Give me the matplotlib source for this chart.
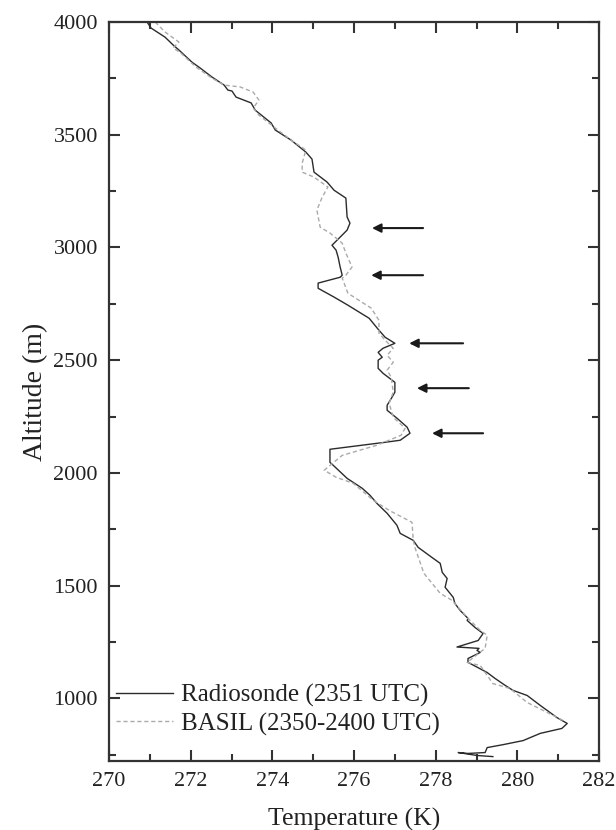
import numpy as np
from matplotlib import pyplot as plt
from matplotlib.ticker import MultipleLocator

# radiosonde profile (temperature K, altitude m)
sonde_T = [270.93, 271.03, 271.37, 271.57, 271.71, 272.03, 272.23, 272.52, 272.82, 272.91,
           273.01, 273.11, 273.48, 273.58, 273.97, 274.07, 274.46, 274.82, 274.97, 275.02,
           275.34, 275.51, 275.80, 275.83, 275.90, 275.83, 275.66, 275.46, 275.56, 275.61,
           275.66, 275.71, 275.66, 275.12, 275.12, 275.51, 275.85, 276.37, 276.61, 276.76,
           277.00, 276.71, 276.59, 276.69, 276.59, 276.59, 276.71, 277.00, 277.00, 276.93,
           276.81, 276.81, 277.05, 277.30, 277.37, 277.30, 277.13, 276.76, 275.41, 275.41,
           275.49, 275.83, 276.20, 276.39, 276.56, 276.81, 277.05, 277.13, 277.45, 277.57,
           277.94, 278.11, 278.16, 278.28, 278.23, 278.43, 278.47, 278.60, 278.79, 278.77,
           278.96, 279.16, 279.04, 278.52, 279.06, 279.01, 279.09, 278.79, 278.79, 279.26,
           279.45, 279.70, 279.89, 280.24, 280.56, 280.97, 281.22, 281.09, 280.56, 280.14,
           279.65, 279.26, 279.21, 278.79, 278.55, 279.01, 279.40]
sonde_z = [4000, 3973, 3933, 3898, 3876, 3822, 3796, 3756, 3720, 3698,
           3694, 3667, 3641, 3609, 3552, 3521, 3476, 3423, 3392, 3334,
           3290, 3254, 3219, 3135, 3108, 3077, 3046, 3010, 2988, 2957,
           2913, 2877, 2868, 2842, 2819, 2780, 2744, 2686, 2633, 2602,
           2575, 2553, 2535, 2513, 2500, 2464, 2442, 2402, 2358, 2336,
           2300, 2278, 2243, 2203, 2176, 2167, 2145, 2136, 2105, 2047,
           2034, 1976, 1932, 1901, 1865, 1821, 1768, 1732, 1701, 1670,
           1621, 1599, 1559, 1532, 1493, 1448, 1421, 1390, 1355, 1346,
           1315, 1288, 1257, 1228, 1222, 1213, 1204, 1177, 1160, 1115,
           1089, 1058, 1036, 1013, 969, 915, 889, 867, 845, 813,
           795, 782, 760, 756, 760, 747, 742]

# BASIL lidar profile
basil_T = [271.13, 271.37, 271.71, 271.57, 271.76, 272.13, 272.52, 272.82, 273.21, 273.53,
           273.67, 273.53, 273.67, 274.07, 274.46, 274.82, 274.73, 274.73, 275.02, 275.36,
           275.22, 275.09, 275.17, 275.41, 275.71, 275.80, 275.95, 275.80, 275.71, 275.85,
           276.42, 276.61, 276.61, 276.76, 276.96, 276.81, 276.96, 276.81, 276.91, 276.96,
           276.86, 276.96, 277.25, 277.15, 276.56, 275.71, 275.27, 275.56, 275.98, 276.47,
           276.86, 277.42, 277.45, 277.49, 277.71, 278.11, 278.40, 278.77, 279.09, 279.26,
           279.21, 278.77, 279.09, 279.40, 279.82, 280.24, 280.73, 281.12]
basil_z = [4000, 3956, 3911, 3885, 3862, 3800, 3751, 3720, 3712, 3689,
           3654, 3618, 3587, 3530, 3476, 3432, 3374, 3334, 3312, 3268,
           3223, 3166, 3090, 3064, 3019, 2975, 2913, 2877, 2864, 2797,
           2731, 2677, 2620, 2589, 2553, 2522, 2491, 2456, 2424, 2358,
           2309, 2247, 2198, 2167, 2123, 2078, 2012, 1981, 1954, 1879,
           1834, 1781, 1701, 1670, 1555, 1466, 1435, 1359, 1302, 1280,
           1222, 1160, 1146, 1066, 1044, 982, 938, 902]

# arrows: altitude, tip temperature, tail temperature
arrow_z = [3086, 2877, 2575, 2376, 2176]
arrow_tip = [276.44, 276.42, 277.35, 277.54, 277.91]
arrow_tail = [277.69, 277.69, 278.67, 278.81, 279.16]

plt.rcParams['font.family'] = ['Liberation Serif', 'DejaVu Serif']

fig = plt.figure(figsize=(6.16, 8.30), dpi=100)
ax = fig.add_axes([0.177, 0.083, 0.7955, 0.8905])

ax.plot(sonde_T, sonde_z, color='#2b2b2b', lw=1.0, label='Radiosonde (2351 UTC)')
ax.plot(basil_T, basil_z, color='#aaaaaa', lw=1.0, ls=(0, (3, 2)), label='BASIL (2350-2400 UTC)')

for z, t0, t1 in zip(arrow_z, arrow_tip, arrow_tail):
    ax.annotate('', xy=(t0, z), xytext=(t1, z),
                arrowprops=dict(arrowstyle='-|>', color='#1a1a1a', lw=1.5,
                                mutation_scale=13, shrinkA=0, shrinkB=0))

ax.set_xlim(270, 282)
ax.set_ylim(722, 4000)
ax.xaxis.set_major_locator(MultipleLocator(2))
ax.xaxis.set_minor_locator(MultipleLocator(1))
ax.yaxis.set_major_locator(MultipleLocator(500))
ax.yaxis.set_minor_locator(MultipleLocator(250))
ax.tick_params(which='both', direction='in', top=True, right=True, color='#333333',
               labelsize=16, width=1.5, pad=8, labelcolor='#222222')
ax.tick_params(which='major', length=8)
ax.tick_params(which='minor', length=5)
for s in ax.spines.values():
    s.set_linewidth(1.6)
    s.set_color('#333333')

ax.set_xlabel('Temperature (K)', fontsize=18.5, color='#222222', labelpad=12)
ax.set_ylabel('Altitude (m)', fontsize=20, color='#222222', labelpad=4)

leg = ax.legend(loc='lower left', bbox_to_anchor=(-0.031, 0.004), frameon=False,
                fontsize=18, handlelength=2.25, handletextpad=0.32, labelspacing=0.22,
                labelcolor='#222222')

plt.savefig('out.png', dpi=100)
